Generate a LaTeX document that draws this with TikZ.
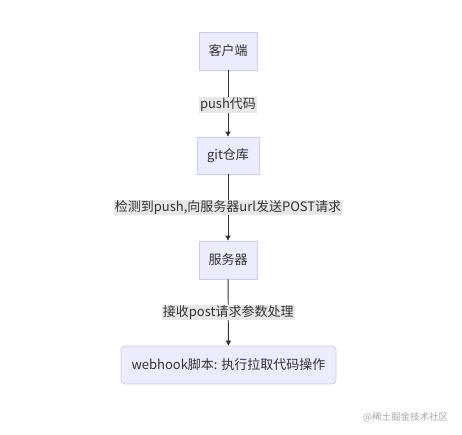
\documentclass[tikz,border=0pt]{standalone}
\usepackage{fontspec}
\setmainfont{Noto Sans CJK SC}
\usetikzlibrary{arrows.meta}
\definecolor{boxfill}{HTML}{ECECFF}
\definecolor{boxdraw}{HTML}{CCCCEE}
\definecolor{lblfill}{HTML}{E8E8E8}
\definecolor{edgecol}{HTML}{333333}
\definecolor{txtcol}{HTML}{333333}
\begin{document}
\begin{tikzpicture}[x=1pt,y=-1pt,
  flowbox/.style={draw=boxdraw,fill=boxfill,line width=0.8pt,text=txtcol,font=\fontsize{13}{15}\selectfont,inner sep=0pt,anchor=center},
  edgelbl/.style={fill=lblfill,text=txtcol,font=\fontsize{13}{15}\selectfont,inner sep=1pt,anchor=center},
  conn/.style={draw=edgecol,line width=0.9pt,-{Triangle[length=5pt,width=5pt]}}]
\useasboundingbox[fill=white] (0,0) rectangle (462,435);
\node[flowbox,minimum width=58pt,minimum height=38pt] (client) at (228,51) {客户端};
\node[flowbox,minimum width=62pt,minimum height=37pt] (git) at (228,155.5) {git仓库};
\node[flowbox,minimum width=58pt,minimum height=38pt] (server) at (228,260) {服务器};
\node[flowbox,rounded corners=4pt,minimum width=215pt,minimum height=38pt] (hook) at (228.5,365) {webhook脚本: 执行拉取代码操作};
\draw[conn] (client) -- (git) node[edgelbl,pos=0.52] (l1) {push代码};
\draw[conn] (git) -- (server) node[edgelbl,pos=0.5] (l2) {检测到push,向服务器url发送POST请求};
\draw[conn] (server) -- (hook) node[edgelbl,pos=0.5] (l3) {接收post请求参数处理};
\node[text=gray!70,font=\fontsize{9.5}{11}\selectfont,anchor=center] (wm) at (405.5,417) {@稀土掘金技术社区};
\end{tikzpicture}
\end{document}
